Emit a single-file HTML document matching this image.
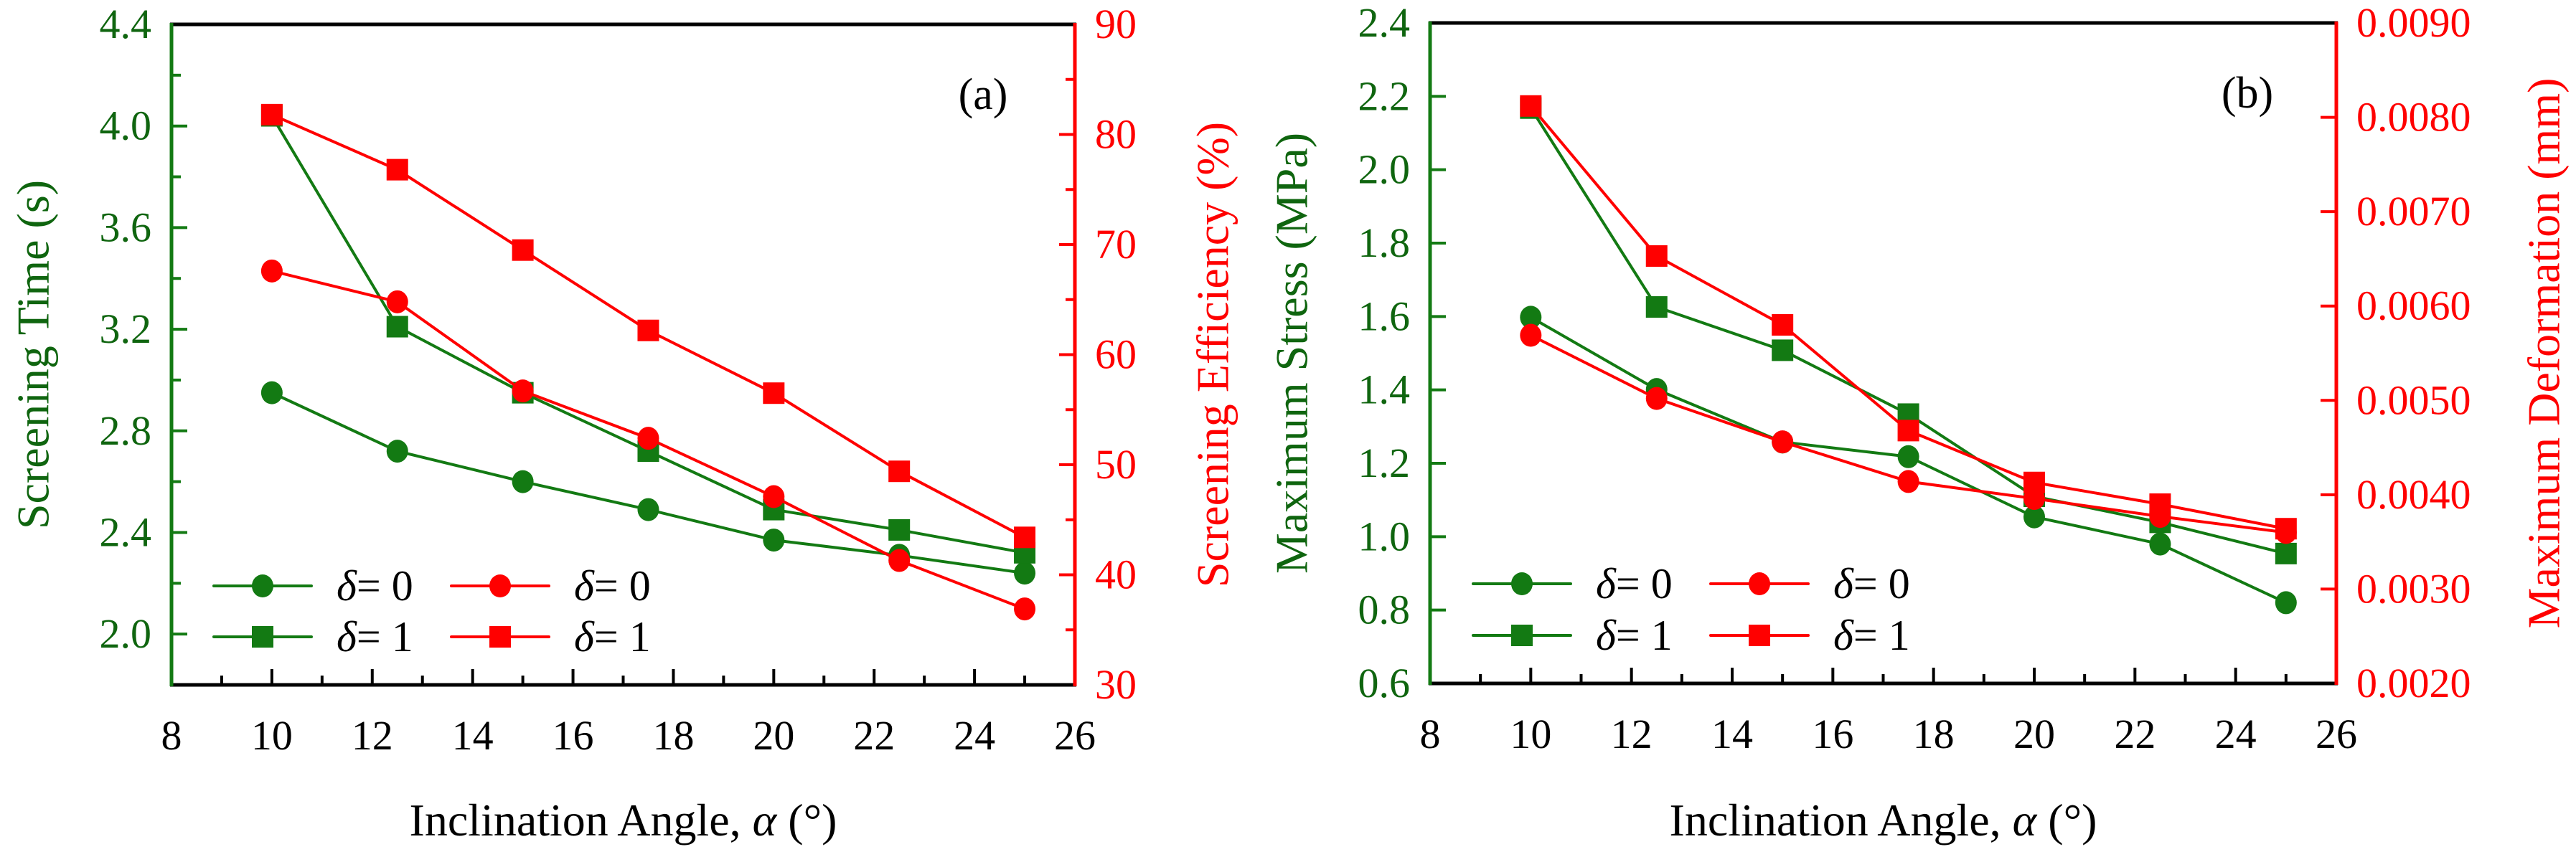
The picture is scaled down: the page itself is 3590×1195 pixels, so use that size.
<!DOCTYPE html>
<html><head><meta charset="utf-8"><style>
html,body{margin:0;padding:0;background:#fff;}
svg{display:block;}
text{font-family:"Liberation Serif","DejaVu Serif",serif;}
</style></head><body>
<svg id="chart" width="3590" height="1195" viewBox="0 0 3590 1195" xmlns="http://www.w3.org/2000/svg" font-family="Liberation Serif, serif"></svg>
<script>
const xCats = [10, 12.5, 15, 17.5, 20, 22.5, 25];
const xTicks = [8, 10, 12, 14, 16, 18, 20, 22, 24, 26];
// panel a
const aTimeD0 = [2.95, 2.72, 2.60, 2.49, 2.37, 2.31, 2.24];
const aTimeD1 = [4.04, 3.21, 2.95, 2.72, 2.49, 2.41, 2.32];
const aEffD0 = [67.6, 64.8, 56.7, 52.4, 47.1, 41.3, 36.9];
const aEffD1 = [81.8, 76.8, 69.5, 62.2, 56.5, 49.4, 43.4];
const aLeftTicks = ["2.0", "2.4", "2.8", "3.2", "3.6", "4.0", "4.4"];
const aRightTicks = ["30", "40", "50", "60", "70", "80", "90"];
// panel b
const bStressD0 = [1.598, 1.401, 1.258, 1.218, 1.054, 0.98, 0.82];
const bStressD1 = [2.168, 1.626, 1.508, 1.334, 1.11, 1.039, 0.954];
const bDefD0 = [0.00569, 0.00502, 0.00456, 0.00414, 0.00396, 0.00377, 0.00360];
const bDefD1 = [0.00812, 0.00653, 0.00580, 0.00468, 0.00413, 0.00390, 0.00364];
const bLeftTicks = ["0.6", "0.8", "1.0", "1.2", "1.4", "1.6", "1.8", "2.0", "2.2", "2.4"];
const bRightTicks = ["0.0020", "0.0030", "0.0040", "0.0050", "0.0060", "0.0070", "0.0080", "0.0090"];

const GREEN = "#137a13", GTXT = "#0f650f", RED = "#ff0000";
const FONT = '"Liberation Serif", "DejaVu Serif", serif';
const svg = document.getElementById('chart');
const NS = "http://www.w3.org/2000/svg";
function mk(tag, attrs, parent, text) {
  const e = document.createElementNS(NS, tag);
  for (const k in attrs) e.setAttribute(k, attrs[k]);
  if (tag === 'text') e.style.fontFamily = FONT;
  if (text !== undefined) e.textContent = text;
  (parent || svg).appendChild(e);
  return e;
}

function panel(p) {
  const g = mk('g', {});
  
  
  const L = p.L, R = p.R, T = p.T, B = p.B;
  const xs = v => L + (v - 8) / 18 * (R - L);
  const yl = v => B - (v - p.lmin) / (p.lmax - p.lmin) * (B - T);
  const yr = v => B - (v - p.rmin) / (p.rmax - p.rmin) * (B - T);
  for (let v = 9; v < 26; v++) {
    const major = v % 2 === 0;
    const t = mk('line', {x1: xs(v), x2: xs(v), y1: B, y2: B - (major ? 22 : 13), stroke: '#000', 'stroke-width': 4}, g);
    
    
  }
  xTicks.forEach(v => {
    const t = mk('text', {x: xs(v), y: B + 90, 'font-size': 58, 'text-anchor': 'middle', fill: '#000'}, g, String(v));
    
    
  });
  p.lTickVals.forEach(lab => {
    const y = yl(parseFloat(lab));
    const t = mk('line', {x1: L, x2: L + 22, y1: y, y2: y, stroke: GREEN, 'stroke-width': 4}, g);
    
    
    const tx = mk('text', {x: L - 28, y: y + 19, 'font-size': 58, 'text-anchor': 'end', fill: GTXT}, g, lab);
    
    
  });
  p.lMinor.forEach(v => {
    const y = yl(v);
    const t = mk('line', {x1: L, x2: L + 13, y1: y, y2: y, stroke: GREEN, 'stroke-width': 4}, g);
    
    
  });
  p.rTickVals.forEach(lab => {
    const y = yr(parseFloat(lab));
    const t = mk('line', {x1: R, x2: R - 22, y1: y, y2: y, stroke: RED, 'stroke-width': 4}, g);
    
    
    const tx = mk('text', {x: R + 28, y: y + 19, 'font-size': 58, 'text-anchor': 'start', fill: RED}, g, lab);
    
    
  });
  p.rMinor.forEach(v => {
    const y = yr(v);
    const t = mk('line', {x1: R, x2: R - 13, y1: y, y2: y, stroke: RED, 'stroke-width': 4}, g);
    
    
  });
  let s;
  s = mk('line', {x1: L - 2, x2: R + 2, y1: T, y2: T, stroke: '#000', 'stroke-width': 5}, g);
   
  s = mk('line', {x1: L - 2, x2: R + 2, y1: B, y2: B, stroke: '#000', 'stroke-width': 5}, g);
   
  s = mk('line', {x1: L, x2: L, y1: T - 2, y2: B + 2, stroke: GREEN, 'stroke-width': 5}, g);
   
  s = mk('line', {x1: R, x2: R, y1: T - 2, y2: B + 2, stroke: RED, 'stroke-width': 5}, g);
   
  function series(vals, yf, color, shape, name) {
    const sg = mk('g', {}, g);
    
    
    const pts = vals.map((v, i) => xs(xCats[i]) + ',' + yf(v)).join(' ');
    const pl = mk('polyline', {points: pts, fill: 'none', stroke: color, 'stroke-width': 4, 'stroke-linejoin': 'round'}, sg);
    
    
    vals.forEach((v, i) => {
      const cx = xs(xCats[i]), cy = yf(v);
      let m;
      if (shape === 'circle') m = mk('ellipse', {cx: cx, cy: cy, rx: 15, ry: 16, fill: color}, sg);
      else m = mk('rect', {x: cx - 15, y: cy - 15, width: 30, height: 30, fill: color}, sg);
      
      
    });
  }
  series(p.g0, yl, GREEN, 'circle', p.name + '-green-delta0');
  series(p.g1, yl, GREEN, 'square', p.name + '-green-delta1');
  series(p.r0, yr, RED, 'circle', p.name + '-red-delta0');
  series(p.r1, yr, RED, 'square', p.name + '-red-delta1');
  const lg = mk('g', {}, g);
  
  
  const entries = [
    [p.legX, p.legY1, GREEN, 'circle', '0'], [p.legX, p.legY2, GREEN, 'square', '1'],
    [p.legX + 331, p.legY1, RED, 'circle', '0'], [p.legX + 331, p.legY2, RED, 'square', '1']];
  entries.forEach(e => {
    const [x, y, c, sh, d] = e;
    const eg = mk('g', {}, lg);
    
    
    mk('line', {x1: x, x2: x + 136, y1: y, y2: y, stroke: c, 'stroke-width': 4, 'stroke-linecap': 'round'}, eg);
    if (sh === 'circle') mk('ellipse', {cx: x + 68, cy: y, rx: 15, ry: 16, fill: c}, eg);
    else mk('rect', {x: x + 53, y: y - 15, width: 30, height: 30, fill: c}, eg);
    const t = mk('text', {x: x + 171, y: y + 20, 'font-size': 60, fill: '#000'}, eg);
    mk('tspan', {'font-style': 'italic'}, t, 'δ');
    mk('tspan', {}, t, '= ' + d);
  });
  let t;
  t = mk('text', {x: (L + R) / 2, y: 1165, 'font-size': 64, 'text-anchor': 'middle', fill: '#000'}, g);
   
  mk('tspan', {}, t, 'Inclination Angle, ');
  mk('tspan', {'font-style': 'italic'}, t, 'α');
  mk('tspan', {}, t, ' (°)');
  t = mk('text', {x: p.ltx, y: (T + B) / 2, 'font-size': 64, 'text-anchor': 'middle', fill: GTXT, transform: 'rotate(-90 ' + p.ltx + ' ' + ((T + B) / 2) + ')', 'dominant-baseline': 'central'}, g, p.ltitle);
   
  t = mk('text', {x: p.rtx, y: (T + B) / 2, 'font-size': 64, 'text-anchor': 'middle', fill: RED, transform: 'rotate(-90 ' + p.rtx + ' ' + ((T + B) / 2) + ')', 'dominant-baseline': 'central'}, g, p.rtitle);
   
  t = mk('text', {x: p.tagX, y: p.tagY, 'font-size': 62, 'text-anchor': 'middle', fill: '#000'}, g, p.tag);
   
}

panel({name: 'panel-a', L: 239, R: 1498, T: 34, B: 955, lmin: 1.8, lmax: 4.4, rmin: 30, rmax: 90,
  lTickVals: aLeftTicks, lMinor: [2.2, 2.6, 3.0, 3.4, 3.8, 4.2],
  rTickVals: aRightTicks, rMinor: [35, 45, 55, 65, 75, 85],
  g0: aTimeD0, g1: aTimeD1, r0: aEffD0, r1: aEffD1,
  legX: 298, legY1: 817, legY2: 888,
  ltx: 46, ltitle: 'Screening Time (s)', rtx: 1690, rtitle: 'Screening Efficiency (%)',
  tag: '(a)', tagX: 1370, tagY: 152});
panel({name: 'panel-b', L: 1993, R: 3256, T: 32, B: 953, lmin: 0.6, lmax: 2.4, rmin: 0.002, rmax: 0.009,
  lTickVals: bLeftTicks, lMinor: [],
  rTickVals: bRightTicks, rMinor: [],
  g0: bStressD0, g1: bStressD1, r0: bDefD0, r1: bDefD1,
  legX: 2053, legY1: 814, legY2: 886,
  ltx: 1800, ltitle: 'Maximum Stress (MPa)', rtx: 3545, rtitle: 'Maximum Deformation (mm)',
  tag: '(b)', tagX: 3132, tagY: 150});
</script>
</body></html>
